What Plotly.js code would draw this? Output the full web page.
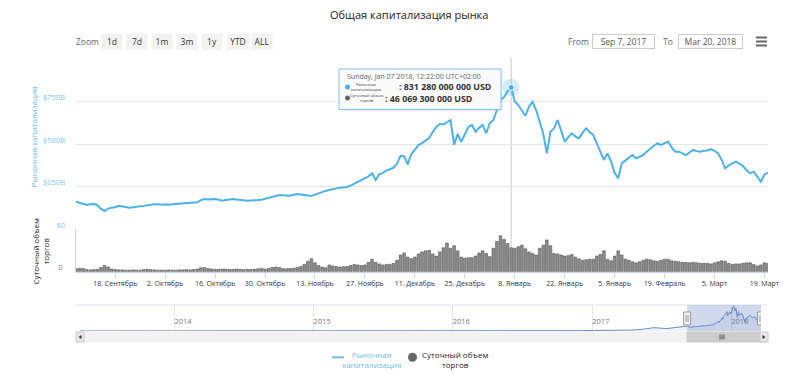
<!DOCTYPE html>
<html><head><meta charset="utf-8">
<script src="https://cdn.plot.ly/plotly-3.0.1.min.js"></script>
<style>html,body{margin:0;padding:0;background:#fff}#chart{width:792px;height:388px}</style>
</head><body><div id="chart"></div>
<script>
// ---------- DATA ----------
const startDate = '2017-09-07';
const endDate = '2018-03-20';
// total market capitalisation, billions USD, one value per day from startDate
const marketCap = [160,155,150,141,146,147,140,118,106,120,
125,128,137,133,128,125,128,133,134,136,
140,142,145,146,143,145,143,146,148,147,
149,151,152,154,157,170,176,174,177,176,
172,166,170,174,176,173,170,167,166,168,
167,170,172,178,182,186,192,200,198,197,
196,201,206,203,199,196,194,202,210,219,
224,229,235,239,242,244,247,255,266,276,
288,298,310,327,288,322,330,343,350,360,
385,430,428,380,440,470,494,505,518,535,
570,601,618,615,628,640,495,560,513,560,
600,612,572,595,612,563,622,641,700,760,
775,810,833,750,729,700,665,720,748,700,
622,560,445,572,592,641,580,513,540,563,
545,533,565,592,570,553,504,450,406,445,
396,330,298,386,406,420,435,416,425,435,
455,475,490,504,494,505,513,480,455,455,
445,435,450,465,458,455,460,462,470,460,
445,406,357,375,386,396,385,370,345,327,
337,310,278,320,331];
// daily trading volume, billions USD
const volume = [5.5,6.5,6,4,3.5,4,4.5,8,12,9,
5,4,3.5,3.5,3,3,3.5,3,3,4,
4.5,4,3.5,3,3,3,3.5,3,3,3.5,
3.5,4,3.5,4,5,7.5,8,6,5,4.5,
4.5,5,5,4.5,4.5,5,4.5,4,4.5,4,
4.5,5.5,6.5,5,6,8,9,8,6,5.5,
6,6.5,8,10,14,20,25,17,12,9,
7.5,13,11,10,9,9.5,10,12,14,13,
12,13,18,24,18,15,13,14,14,16,
22,32,36,28,25,28,34,38,40,41,
34,30,38,46,55,45,50,40,28,26,
27,27,30,36,40,35,29,45,58,69,
62,54,46,45,48,51,44,38,35,32,
45,51,61,50,35,34,32,30,31,33,
28,25,22,23,24,24,30,33,40,24,
21,30,40,32,24,22,19,17,19,22,
24,23,21,20,22,24,24,21,20,19,
18,18,17,18,17,16,16,16,15,17,
19,21,20,16,14,15,15,16,17,17,
14,11,13,17,16];
// earlier history for the navigator
const histDates = ['2013-04-28','2013-06-01','2013-08-01','2013-10-01','2013-11-15','2013-12-04','2014-01-01','2014-03-01','2014-06-01','2014-09-01','2014-12-01','2015-01-15','2015-04-01','2015-07-01','2015-10-01','2015-12-01','2016-03-01','2016-06-15','2016-09-01','2016-12-01','2017-01-05','2017-02-15','2017-03-15','2017-04-15','2017-05-15','2017-06-12','2017-07-15','2017-08-15','2017-09-01'];
const histCap = [1.6,1.4,1.2,1.6,5,15,10,8,8.5,6.5,5.5,3.5,3.7,4,3.8,6,7.5,12,11,13,17,18,25,30,60,110,80,140,170];

const xTickDates = ['2017-09-18','2017-10-02','2017-10-16','2017-10-30','2017-11-13','2017-11-27','2017-12-11','2017-12-25','2018-01-08','2018-01-22','2018-02-05','2018-02-19','2018-03-05','2018-03-19'];
const xTickLabels = ['18. Сентябрь','2. Октябрь','16. Октябрь','30. Октябрь','13. Ноябрь','27. Ноябрь','11. Декабрь','25. Декабрь','8. Январь','22. Январь','5. Январь','19. Февраль','5. Март','19. Март'];
const capTickVals = [0,250,500,750,1000];
const capTickLabels = ['$0','$250B','$500B','$750B',''];
const volTickVals = [0];
const volTickLabels = ['0'];
const navYearDates = ['2014-01-01','2015-01-01','2016-01-01','2017-01-01','2018-01-01'];
const navYearLabels = ['2014','2015','2016','2017','2018'];
const zoomButtons = ['1d','7d','1m','3m','1y','YTD','ALL'];
const hoverIndex = 122;
const tooltipDate = 'Sunday, Jan 07 2018, 12:22:00 UTC+02:00';
const tooltipCap = ': 831 280 000 000 USD';
const tooltipVol = ': 46 069 300 000 USD';
const capName = 'Рыночная капитализация';
const volName = 'Суточный объем торгов';
const chartTitle = 'Общая капитализация рынка';

// ---------- BUILD ----------
const dates = marketCap.map((_, i) => {
  const d = new Date(Date.UTC(2017, 8, 7 + i));
  return d.toISOString().slice(0, 10);
});
const navDates = histDates.concat(dates);
const navCap = histCap.concat(marketCap);

const L = 76, R = 768, T = 59, B = 331, W = R - L, H = B - T;
const xp = p => (p - L) / W, yp = p => (B - p) / H;
const FONT = 'Open Sans, sans-serif';
const BLUE = '#4db2ea';

const traces = [
  {type:'scatter', mode:'lines', x:dates, y:marketCap, xaxis:'x', yaxis:'y',
   line:{color:BLUE, width:2}, name:capName, hoverinfo:'skip', showlegend:false},
  {type:'bar', x:dates, y:volume, xaxis:'x', yaxis:'y2', name:volName,
   marker:{color:'#8c8c8c', line:{color:'#555555', width:0.6}}, hoverinfo:'skip', showlegend:false},
  {type:'scatter', mode:'markers', x:[dates[hoverIndex]], y:[marketCap[hoverIndex]], xaxis:'x', yaxis:'y',
   marker:{size:17, color:'rgba(77,178,234,0.25)'}, hoverinfo:'skip', showlegend:false},
  {type:'scatter', mode:'markers', x:[dates[hoverIndex]], y:[marketCap[hoverIndex]], xaxis:'x', yaxis:'y',
   marker:{size:6, color:BLUE, line:{color:'#ffffff', width:1}}, hoverinfo:'skip', showlegend:false},
  {type:'scatter', mode:'lines', x:navDates, y:navCap, xaxis:'x2', yaxis:'y3',
   line:{color:'#6a8cd0', width:1}, fill:'tozeroy', fillcolor:'rgba(69,114,167,0.08)', hoverinfo:'skip', showlegend:false}
];

const shapes = [];
const annotations = [];
function ann(text, px, py, o) {
  annotations.push(Object.assign({text:text, x:xp(px), y:yp(py), xref:'paper', yref:'paper',
    showarrow:false, xanchor:'center', yanchor:'middle', font:{family:FONT, size:8, color:'#333'}}, o || {}));
}
function rect(x0, y0, x1, y1, fill, line, lw) {
  shapes.push({type:'rect', xref:'paper', yref:'paper', x0:xp(x0), x1:xp(x1), y0:yp(y1), y1:yp(y0),
    fillcolor:fill, line:{color:line || fill, width:lw === undefined ? 1 : lw}, layer:'above'});
}
function seg(x0, y0, x1, y1, color, w) {
  shapes.push({type:'line', xref:'paper', yref:'paper', x0:xp(x0), x1:xp(x1), y0:yp(y0), y1:yp(y1),
    line:{color:color, width:w}, layer:'above'});
}

// title
ann(chartTitle, 409, 15, {font:{family:FONT, size:11, color:'#222'}});
// range selector
ann('Zoom', 87.5, 41, {font:{family:FONT, size:8.5, color:'#666'}});
const btnX = [111.7,136.7,161.7,186.7,211.7,237.5,261.7];
const btnW = [20,20,20,20,20,22,20];
zoomButtons.forEach((b, i) => ann(b, btnX[i], 41, {width:btnW[i], height:15, borderpad:0, bgcolor:'#f2f2f2',
  font:{family:FONT, size:8.5, color:'#333'}}));
ann('From', 578, 41, {font:{family:FONT, size:8.5, color:'#666'}});
ann('Sep 7, 2017', 623.3, 41, {width:61, height:13, borderpad:0, bordercolor:'#cccccc', borderwidth:1,
  font:{family:FONT, size:8.5, color:'#555'}});
ann('To', 667.5, 41, {font:{family:FONT, size:8.5, color:'#666'}});
ann('Mar 20, 2018', 710.5, 41, {width:63, height:13, borderpad:0, bordercolor:'#cccccc', borderwidth:1,
  font:{family:FONT, size:8.5, color:'#555'}});
[37.5, 41.5, 45.5].forEach(y => seg(756, y, 767, y, '#666', 2));

// axis titles
ann(capName, 32.5, 137, {textangle:-90, font:{family:FONT, size:8, color:'#6cbdea'}});
ann('Суточный объем<br>торгов', 40.5, 252, {textangle:-90, font:{family:FONT, size:8, color:'#222'}});

// crosshair
shapes.push({type:'line', xref:'x', yref:'paper', x0:dates[hoverIndex], x1:dates[hoverIndex], y0:yp(272), y1:yp(58),
  line:{color:'#cccccc', width:1}, layer:'below'});

// tooltip
rect(341, 71, 503, 111, 'rgba(0,0,0,0.06)', 'rgba(0,0,0,0)', 0);
rect(339, 69, 501, 109.5, 'rgba(250,250,250,0.95)', '#7cc5ef', 1);
ann(tooltipDate, 344.5, 76.2, {xanchor:'left', font:{family:FONT, size:7, color:'#666'}});
shapes.push({type:'circle', xref:'paper', yref:'paper', x0:xp(345), x1:xp(350), y0:yp(89.4), y1:yp(84.4),
  fillcolor:BLUE, line:{width:0}, layer:'above'});
shapes.push({type:'circle', xref:'paper', yref:'paper', x0:xp(345), x1:xp(350), y0:yp(100.6), y1:yp(95.6),
  fillcolor:'#666', line:{width:0}, layer:'above'});
ann('Рыночная<br>капитализация', 366, 86.8, {font:{family:FONT, size:4, color:'#333'}});
ann('Суточный объем<br>торгов', 366, 98, {font:{family:FONT, size:4, color:'#333'}});
ann('<b>' + tooltipCap + '</b>', 397, 86.6, {xanchor:'left', font:{family:FONT, size:8.8, color:'#333'}});
ann('<b>' + tooltipVol + '</b>', 383, 98.6, {xanchor:'left', font:{family:FONT, size:8.8, color:'#333'}});

// navigator
seg(76, 305, 768, 305, '#dde3ee', 1);
shapes.push({type:'rect', xref:'x2', yref:'paper', x0:startDate, x1:endDate, y0:0, y1:yp(305),
  fillcolor:'rgba(102,133,194,0.3)', line:{width:0}, layer:'above'});
[startDate, endDate].forEach(d => {
  shapes.push({type:'rect', xref:'x2', yref:'paper', xsizemode:'pixel', xanchor:d, x0:-3.5, x1:3.5,
    y0:yp(325), y1:yp(312), fillcolor:'#f2f2f2', line:{color:'#999', width:1}, layer:'above'});
  [-1, 1].forEach(o => shapes.push({type:'line', xref:'x2', yref:'paper', xsizemode:'pixel', xanchor:d,
    x0:o, x1:o, y0:yp(322), y1:yp(315), line:{color:'#999', width:1}, layer:'above'}));
});
// scrollbar
rect(76, 332, 768, 342, '#f2f2f2', '#f2f2f2', 1);
shapes.push({type:'rect', xref:'x2', yref:'paper', x0:startDate, x1:endDate, y0:yp(342), y1:yp(332),
  fillcolor:'#cccccc', line:{color:'#cccccc', width:1}, layer:'above'});
rect(76, 332, 84, 342, '#e6e6e6', '#cccccc', 1);
rect(760, 332, 768, 342, '#e6e6e6', '#cccccc', 1);
shapes.push({type:'path', xref:'paper', yref:'paper', fillcolor:'#333', line:{width:0}, layer:'above',
  path:`M ${xp(81.5)} ${yp(335)} L ${xp(78.5)} ${yp(337)} L ${xp(81.5)} ${yp(339)} Z`});
shapes.push({type:'path', xref:'paper', yref:'paper', fillcolor:'#333', line:{width:0}, layer:'above',
  path:`M ${xp(762.5)} ${yp(335)} L ${xp(765.5)} ${yp(337)} L ${xp(762.5)} ${yp(339)} Z`});
[-2, 0, 2].forEach(o => seg(722 + o, 334.5, 722 + o, 339.5, '#333', 0.8));

// legend
seg(332, 357.3, 344, 357.3, '#6cbdea', 2);
ann('Рыночная<br>капитализация', 371, 359.2, {font:{family:FONT, size:8, color:'#6cbdea'}});
shapes.push({type:'circle', xref:'paper', yref:'paper', x0:xp(408), x1:xp(417), y0:yp(361.8), y1:yp(352.8),
  fillcolor:'#666', line:{width:0}, layer:'above'});
ann('Суточный объем<br>торгов', 455, 359.2, {font:{family:FONT, size:8, color:'#222'}});

const layout = {
  width:792, height:388, autosize:false,
  margin:{l:L, r:792 - R, t:T, b:388 - B, pad:0},
  paper_bgcolor:'#ffffff', plot_bgcolor:'rgba(0,0,0,0)',
  font:{family:FONT, size:8, color:'#333'},
  showlegend:false, bargap:0.25,
  xaxis:{type:'date', domain:[0,1], anchor:'y2', range:[startDate, endDate],
    tickmode:'array', tickvals:xTickDates, ticktext:xTickLabels, tickangle:0,
    ticks:'outside', ticklen:5, tickcolor:'#ccd6eb', showline:true, linecolor:'#ccd6eb', showgrid:false,
    zeroline:false, tickfont:{family:FONT, size:7, color:'#333'}},
  yaxis:{domain:[yp(229), 1], anchor:'x', range:[0, 1000], tickmode:'array', tickvals:capTickVals, ticktext:capTickLabels,
    gridcolor:'#e6e6e6', zeroline:false, showline:false, ticks:'', ticklabelshift:-4, ticklabelstandoff:10,
    tickfont:{family:FONT, size:7.5, color:'#82c4ec'}},
  yaxis2:{domain:[yp(271.7), yp(229)], anchor:'x', range:[0, 82], tickmode:'array', tickvals:volTickVals, ticktext:volTickLabels,
    showgrid:false, zeroline:false, showline:true, linecolor:'#ccd6eb', ticks:'', ticklabelshift:-4, ticklabelstandoff:11,
    tickfont:{family:FONT, size:7.5, color:'#8a7a6a'}},
  xaxis2:{type:'date', domain:[xp(80), xp(761)], anchor:'y3', range:[histDates[0], endDate],
    tickmode:'array', tickvals:navYearDates, ticktext:navYearLabels, ticklabelposition:'inside right',
    showgrid:true, gridcolor:'#e6e6e6', ticks:'', showline:false, zeroline:false,
    tickfont:{family:FONT, size:7.5, color:'#777'}},
  yaxis3:{domain:[0, yp(305)], anchor:'x2', range:[0, 860], visible:false, showgrid:false},
  shapes:shapes, annotations:annotations
};
Plotly.newPlot('chart', traces, layout, {displayModeBar:false, staticPlot:true});
</script></body></html>
